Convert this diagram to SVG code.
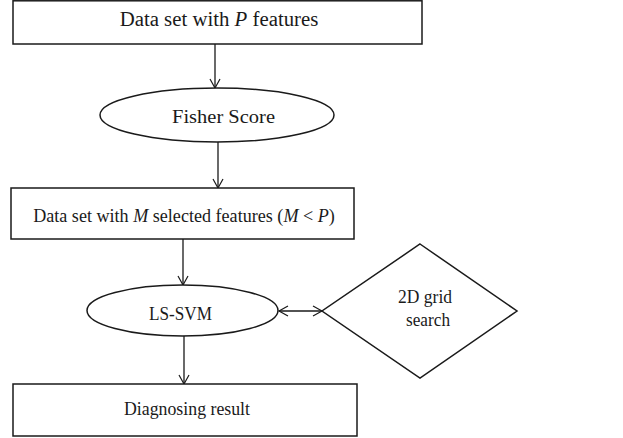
<svg xmlns="http://www.w3.org/2000/svg" width="623" height="438" viewBox="0 0 623 438">
<defs>
<style>
.s{fill:#fff;stroke:#1a1a1a;stroke-width:1.5}
.t{font-family:'Liberation Serif','Times New Roman',serif;font-size:19px;fill:#1a1a1a;text-anchor:middle}
.c{stroke:#1a1a1a;stroke-width:1.3;fill:none}
</style>
<marker id="a" markerWidth="12" markerHeight="12" refX="10" refY="6" orient="auto-start-reverse" markerUnits="userSpaceOnUse">
<path d="M1,1 L10,6 L1,11" fill="none" stroke="#1a1a1a" stroke-width="1.2"/>
</marker>
</defs>
<rect width="623" height="438" fill="#fff"/>
<g id="connectors">
<line class="c" x1="215" y1="44" x2="215" y2="88" marker-end="url(#a)"/>
<line class="c" x1="218" y1="142" x2="218" y2="188" marker-end="url(#a)"/>
<line class="c" x1="183" y1="239" x2="183" y2="285" marker-end="url(#a)"/>
<line class="c" x1="184" y1="336" x2="184" y2="384" marker-end="url(#a)"/>
<line class="c" x1="279" y1="311" x2="322" y2="311" marker-start="url(#a)" marker-end="url(#a)"/>
</g>
<g id="box1">
<rect class="s" x="13" y="0.8" width="409" height="43.2"/>
<text class="t" x="219" y="26" style="font-size:20.8px">Data set with <tspan font-style="italic">P</tspan> features</text>
</g>
<g id="fisher">
<ellipse class="s" cx="217" cy="115" rx="117" ry="27"/>
<text class="t" x="223.5" y="123" textLength="103" lengthAdjust="spacingAndGlyphs">Fisher Score</text>
</g>
<g id="box2">
<rect class="s" x="11" y="188" width="343" height="51"/>
<text class="t" x="184" y="221.5" style="font-size:18.1px">Data set with <tspan font-style="italic">M</tspan> selected features (<tspan font-style="italic">M</tspan> &lt; <tspan font-style="italic">P</tspan>)</text>
</g>
<g id="lssvm">
<ellipse class="s" cx="182.5" cy="310.5" rx="95.5" ry="25.5"/>
<text class="t" x="180.5" y="320" textLength="63" lengthAdjust="spacingAndGlyphs">LS-SVM</text>
</g>
<g id="grid">
<polygon class="s" points="420,244 517,311 420,378 322,311"/>
<text class="t" x="425" y="303" textLength="54" lengthAdjust="spacingAndGlyphs">2D grid</text>
<text class="t" x="428" y="326" textLength="44" lengthAdjust="spacingAndGlyphs">search</text>
</g>
<g id="box3">
<rect class="s" x="13" y="384" width="344" height="52"/>
<text class="t" x="187" y="414.5" textLength="126" lengthAdjust="spacingAndGlyphs">Diagnosing result</text>
</g>
</svg>
